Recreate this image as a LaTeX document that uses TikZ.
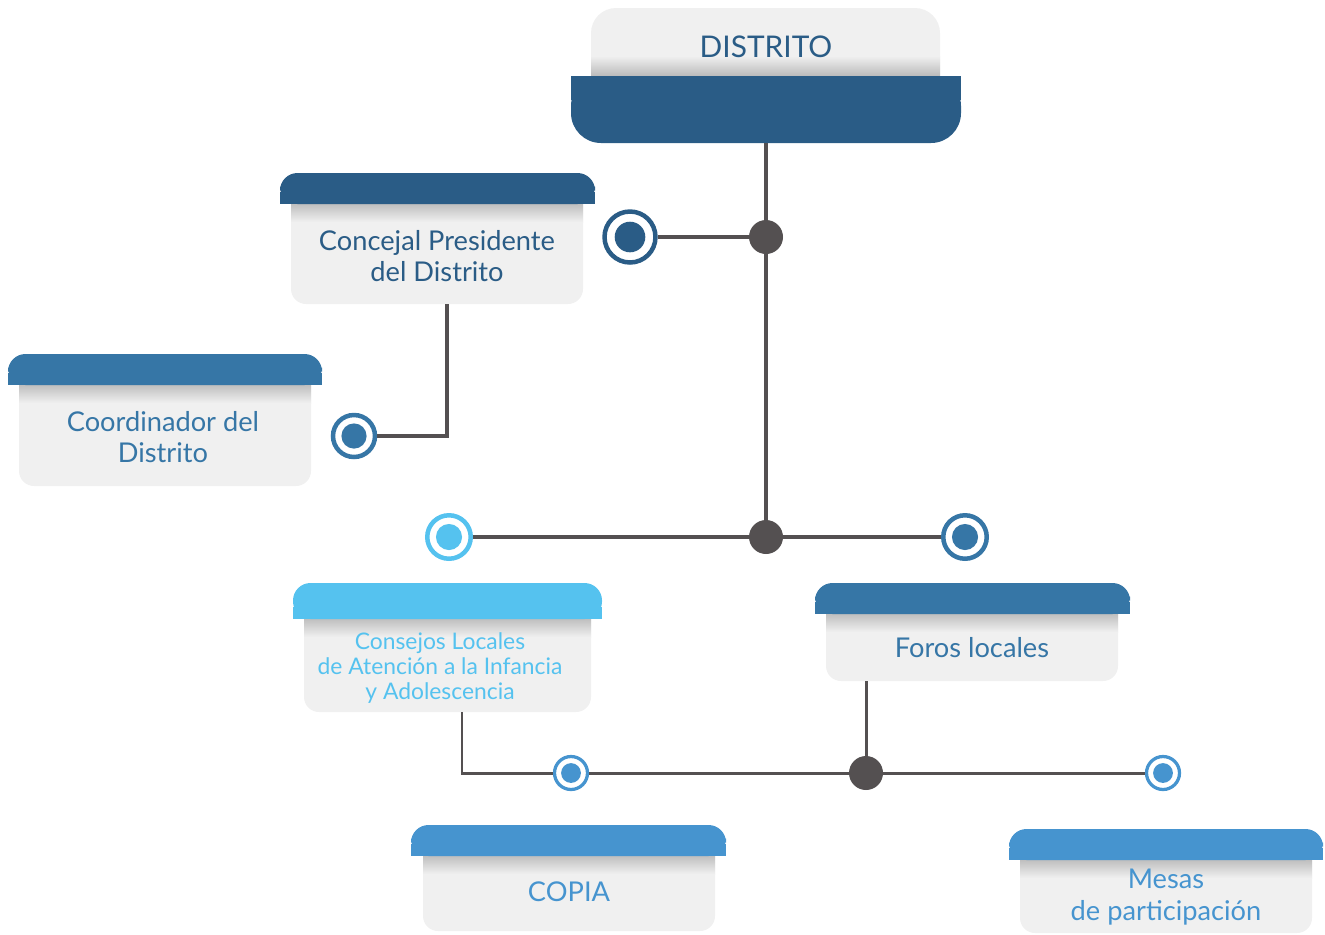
\documentclass[tikz,border=0pt]{standalone}
\usepackage{fontspec}
\setmainfont{Lato}

\definecolor{distblue}{HTML}{2A5C86}
\definecolor{midblue}{HTML}{3676A6}
\definecolor{plainblue}{HTML}{4694CF}
\definecolor{skyblue}{HTML}{55C2EF}
\definecolor{linegray}{HTML}{545051}
\definecolor{boxgray}{HTML}{F0F0F0}

\tikzset{
  wire/.style={draw=linegray, line width=2.3pt},
  thinwire/.style={draw=linegray, line width=1.7pt},
  junction/.style={circle, fill=linegray, inner sep=0pt, minimum size=0.68cm},
  target/.style 2 args={circle, fill=white, draw=#1, line width=0.09cm, inner sep=0pt,
    minimum size=#2, path picture={\fill[#1] (path picture bounding box.center) circle[radius=0.3*#2];}},
  boxtext/.style={align=center, font=\fontsize{15.5}{18}\selectfont}
}

\begin{document}
\begin{tikzpicture}[x=0.02cm, y=-0.02cm]
      \useasboundingbox (0,0) rectangle (1325,934);
      % top box
      \fill[boxgray, rounded corners=0.5cm] (591,8) rectangle (940,100);
      \shade[top color=boxgray, bottom color=black!28] (591,56) rectangle (940,77);
      \fill[distblue, rounded corners=0.6cm] (571,76) rectangle (961,143);
      \fill[distblue] (571,76) rectangle (961,100);
      % boxes with header bar
      \foreach \ha/\hb/\ya/\yb/\la/\lb/\yc/\col in {
          280/595/173/204/291/583/304/distblue,
          8/322/354/385/19/311/486/midblue,
          293/602/583/619/304/591/712/skyblue,
          815/1130/583/614/826/1118/681/midblue,
          411/726/825/856/423/715/931/plainblue,
          1009/1323/829/860/1020/1312/933/plainblue}{
        \fill[boxgray, rounded corners=0.3cm] (\la,\ya+10) rectangle (\lb,\yc);
        \shade[top color=black!25, bottom color=boxgray] (\la,\yb) rectangle (\lb,\yb+18);
        \fill[\col, rounded corners=0.35cm] (\ha,\ya) rectangle (\hb,\yb);
        \fill[\col] (\ha,\yb-12) rectangle (\hb,\yb);
      }
      % texts
      \node[boxtext, text=distblue, font=\fontsize{17}{20}\selectfont] (distrito) at (766,47) {DISTRITO};
      \node[boxtext, text=distblue] (concejal) at (437,256) {Concejal Presidente\\del Distrito};
      \node[boxtext, text=midblue] (coordinador) at (163,437) {Coordinador del\\Distrito};
      \node[boxtext, text=skyblue, font=\fontsize{13}{14.2}\selectfont] (consejos) at (440,668) {Consejos Locales\\de Atención a la Infancia\\y Adolescencia};
      \node[boxtext, text=midblue] (foros) at (972,648) {Foros locales};
      \node[boxtext, text=plainblue] (copia) at (569,892) {COPIA};
      \node[boxtext, text=plainblue] (mesas) at (1166,897) {Mesas\\de participación};
      % joints
      \coordinate (distrito foot) at (766,143);
      \coordinate (concejal foot) at (447,304);
      \coordinate (consejos foot) at (462,712);
      \coordinate (foros foot) at (866,681);
      \node[junction] (hubA) at (766,237) {};
      \node[junction] (hubB) at (766,537) {};
      \node[junction] (hubC) at (866,773) {};
      \node[target={distblue}{1.02cm}] (tconcejal) at (630,237) {};
      \node[target={midblue}{0.84cm}] (tcoordinador) at (354,436) {};
      \node[target={skyblue}{0.87cm}] (tconsejos) at (449,537) {};
      \node[target={midblue}{0.87cm}] (tforos) at (965,537) {};
      \node[target={plainblue}{0.66cm}, line width=0.065cm] (tcopia) at (571,773) {};
      \node[target={plainblue}{0.66cm}, line width=0.065cm] (tmesas) at (1163,773) {};
      % lines
      \draw[wire] (distrito foot) -- (hubA) -- (hubB);
      \draw[wire] (hubA) -- (tconcejal);
      \draw[wire] (concejal foot) |- (tcoordinador);
      \draw[wire] (tconsejos) -- (hubB) -- (tforos);
      \draw[thinwire] (consejos foot) |- (tcopia);
      \draw[thinwire] (tcopia) -- (hubC) -- (tmesas);
      \draw[thinwire] (foros foot) -- (hubC);
    \end{tikzpicture}
\end{document}
